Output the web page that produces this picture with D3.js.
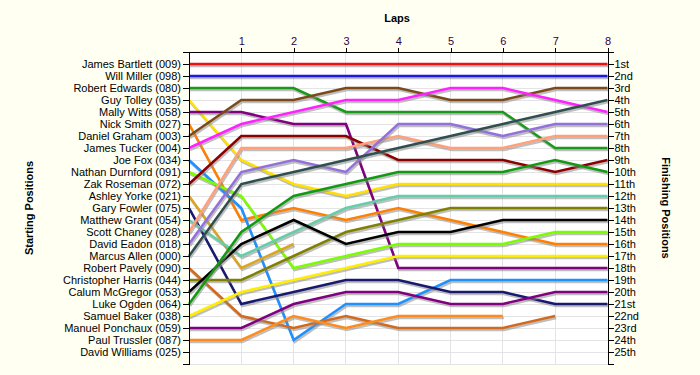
<!DOCTYPE html>
<html>
<head>
<meta charset="utf-8">
<script src="https://cdn.jsdelivr.net/npm/d3@7"></script>
<style>
  html, body { margin: 0; padding: 0; background: #fffff2; }
  svg { display: block; font-family: "Liberation Sans", Arial, sans-serif; }
  .axis text { font-size: 11px; fill: #000; }
  .axis path, .axis line { stroke: #000; shape-rendering: crispEdges; }
  .top-axis text { fill: #330044; }
  .grid line { stroke: #e4e4e4; shape-rendering: crispEdges; }
  .title { font-size: 11px; font-weight: bold; }
</style>
</head>
<body>
<div id="chart"></div>
<script>
const laps = [0, 1, 2, 3, 4, 5, 6, 7, 8];
const lapTicks = [1, 2, 3, 4, 5, 6, 7, 8];

const drivers = [
  "James Bartlett (009)", "Will Miller (098)", "Robert Edwards (080)", "Guy Tolley (035)",
  "Mally Witts (058)", "Nick Smith (027)", "Daniel Graham (003)", "James Tucker (004)",
  "Joe Fox (034)", "Nathan Durnford (091)", "Zak Roseman (072)", "Ashley Yorke (021)",
  "Gary Fowler (075)", "Matthew Grant (054)", "Scott Chaney (028)", "David Eadon (018)",
  "Marcus Allen (000)", "Robert Pavely (090)", "Christopher Harris (044)", "Calum McGregor (053)",
  "Luke Ogden (064)", "Samuel Baker (038)", "Manuel Ponchaux (059)", "Paul Trussler (087)",
  "David Williams (025)"
];

const finishLabels = [
  "1st", "2nd", "3rd", "4th", "5th", "6th", "7th", "8th", "9th", "10th",
  "11th", "12th", "13th", "14th", "15th", "16th", "17th", "18th", "19th", "20th",
  "21st", "22nd", "23rd", "24th", "25th"
];

// position of each driver at the end of laps 0..8 (null = retired)
const positions = [
  [1, 1, 1, 1, 1, 1, 1, 1, 1],
  [2, 2, 2, 2, 2, 2, 2, 2, 2],
  [3, 3, 3, 5, 5, 5, 5, 8, 8],
  [4, 9, 11, 12, 11, 11, 11, 11, 11],
  [5, 5, 6, 6, 18, 18, 18, 18, 18],
  [6, 14, 13, 14, 13, 14, 15, 16, 16],
  [7, 4, 4, 3, 3, 4, 4, 3, 3],
  [8, 6, 5, 4, 4, 3, 3, 4, 5],
  [9, 13, 24, 21, 21, 19, 19, 19, 19],
  [10, 12, 18, 17, 16, 16, 16, 15, 15],
  [11, 7, 7, 7, 9, 9, 9, 10, 9],
  [12, 18, 16, null, null, null, null, null, null],
  [13, 21, 20, 19, 19, 20, 20, 21, 21],
  [14, 17, 15, 13, 12, 12, 12, 12, 12],
  [15, 8, 8, 8, 7, 8, 8, 7, 7],
  [16, 10, 9, 10, 6, 6, 7, 6, 6],
  [17, 11, 10, 9, 8, 7, 6, 5, 4],
  [18, 22, 23, 22, 23, 23, 23, 22, null],
  [19, 19, 17, 15, 14, 13, 13, 13, 13],
  [20, 16, 14, 16, 15, 15, 14, 14, 14],
  [21, 15, 12, 11, 10, 10, 10, 9, 10],
  [22, 20, 19, 18, 17, 17, 17, 17, 17],
  [23, 23, 21, 20, 20, 21, 21, 20, 20],
  [24, 24, 22, 23, 22, 22, 22, null, null],
  [25, null, null, null, null, null, null, null, null]
];

const lineColors = [
  "#ee1111", "#1a1ae6", "#1a9a1a", "#ffe000", "#800080", "#ff8000", "#7a4a1a", "#ff22ff",
  "#1e90ff", "#7cfc00", "#8b0000", "#daa520", "#191970", "#66cdaa", "#ffa07a", "#9370db",
  "#2f4f4f", "#d2691e", "#808000", "#000000", "#119911", "#ffee00", "#800080", "#ff8c1a",
  "#888888"
];

const width = 700, height = 375;
const svg = d3.select("#chart").append("svg").attr("width", width).attr("height", height);

const x = d3.scaleLinear().domain([0, 8]).range([189, 607.5]);
const y = d3.scaleLinear().domain([0, 26]).range([52, 364]);

svg.append("rect").attr("x", x(0)).attr("y", y(0)).attr("width", x(8) - x(0)).attr("height", y(26) - y(0)).attr("fill", "#ffffff");

const grid = svg.append("g").attr("class", "grid");
grid.selectAll("line.h").data(d3.range(1, 27)).join("line").attr("class", "h")
  .attr("x1", x(0)).attr("x2", x(8)).attr("y1", (d) => y(d)).attr("y2", (d) => y(d));
grid.selectAll("line.v").data(lapTicks.slice(0, -1)).join("line").attr("class", "v")
  .attr("x1", (d) => x(d)).attr("x2", (d) => x(d)).attr("y1", y(0)).attr("y2", y(26));

const line = d3.line().defined((d) => d.pos != null).x((d) => x(d.lap)).y((d) => y(d.pos));
const series = positions.map((row, i) => ({ id: i, color: lineColors[i], points: laps.map((lap, j) => ({ lap, pos: row[j] })) }))
  .filter((s) => s.points.filter((p) => p.pos != null).length > 1);

const groups = svg.append("g").selectAll("g").data(series).join("g");
groups.append("path").attr("d", (d) => line(d.points)).attr("fill", "none")
  .attr("stroke", "#8a8a8a").attr("stroke-opacity", 0.55).attr("stroke-width", 2.5).attr("transform", "translate(1,2)");
groups.append("path").attr("d", (d) => line(d.points)).attr("fill", "none")
  .attr("stroke", (d) => d.color).attr("stroke-width", 2.5);

const ranks = d3.range(1, 26);
svg.append("g").attr("class", "axis").attr("transform", `translate(${x(0)},0)`)
  .call(d3.axisLeft(y).tickValues(ranks).tickFormat((d) => drivers[d - 1]).tickSize(6).tickPadding(2));
svg.append("g").attr("class", "axis").attr("transform", `translate(${x(8)},0)`)
  .call(d3.axisRight(y).tickValues(ranks).tickFormat((d) => finishLabels[d - 1]).tickSize(6).tickPadding(1));
svg.append("g").attr("class", "axis top-axis").attr("transform", `translate(0,${y(0)})`)
  .call(d3.axisTop(x).tickValues(lapTicks).tickSizeInner(4).tickSizeOuter(0).tickPadding(3));

svg.append("text").attr("class", "title").attr("x", 397).attr("y", 22).attr("text-anchor", "middle").text("Laps");
svg.append("text").attr("class", "title").attr("transform", "translate(33,208) rotate(-90)")
  .attr("text-anchor", "middle").text("Starting Positions");
svg.append("text").attr("class", "title").attr("transform", "translate(662,208) rotate(90)")
  .attr("text-anchor", "middle").text("Finishing Positions");
</script>
</body>
</html>
